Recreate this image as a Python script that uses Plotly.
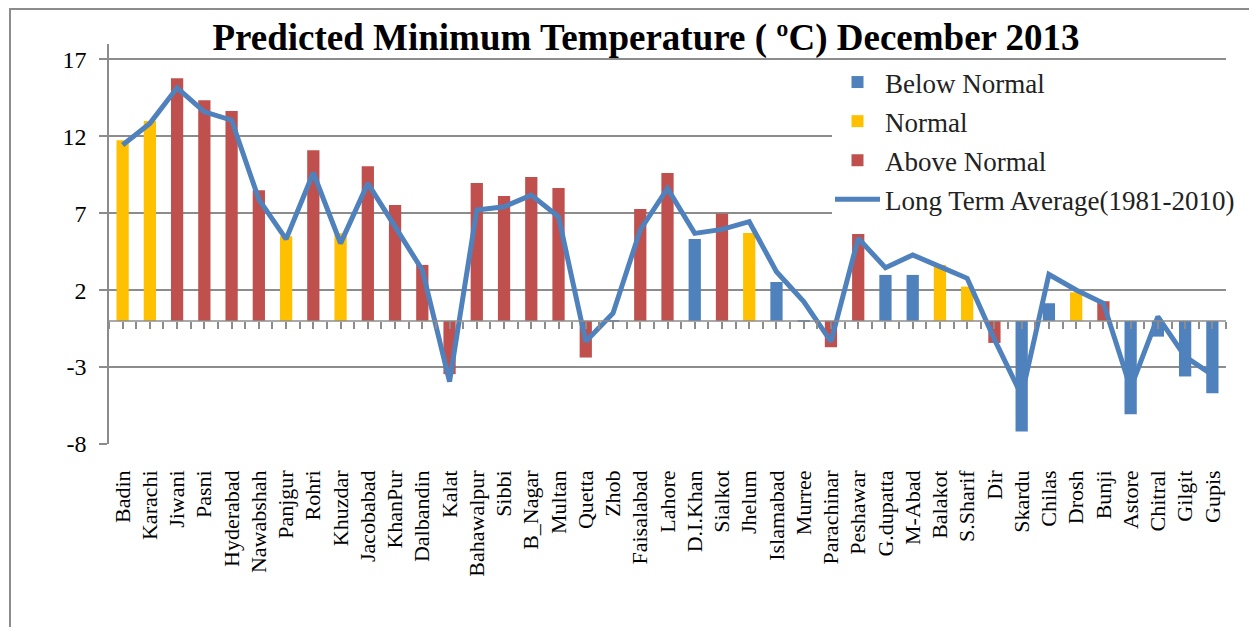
import plotly.graph_objects as go

stations = ["Badin", "Karachi", "Jiwani", "Pasni", "Hyderabad", "Nawabshah", "Panjgur", "Rohri",
            "Khuzdar", "Jacobabad", "KhanPur", "Dalbandin", "Kalat", "Bahawalpur", "Sibbi", "B_Nagar",
            "Multan", "Quetta", "Zhob", "Faisalabad", "Lahore", "D.I.Khan", "Sialkot", "Jhelum",
            "Islamabad", "Murree", "Parachinar", "Peshawar", "G.dupatta", "M-Abad", "Balakot",
            "S.Sharif", "Dir", "Skardu", "Chilas", "Drosh", "Bunji", "Astore", "Chitral", "Gilgit", "Gupis"]

predicted = [11.75, 12.99, 15.78, 14.35, 13.64, 8.5, 5.5, 11.1, 5.7, 10.06, 7.53, 3.64, -3.46,
             8.96, 8.12, 9.35, 8.64, -2.38, -0.07, 7.27, 9.61, 5.32, 6.97, 5.71, 2.53, -0.07,
             -1.71, 5.65, 2.99, 2.99, 3.64, 2.23, -1.43, -7.19, 1.15, 1.86, 1.28, -6.06, -1.02,
             -3.61, -4.7]

category = ["N", "N", "A", "A", "A", "A", "N", "A", "N", "A", "A", "A", "A",
            "A", "A", "A", "A", "A", "B", "A", "A", "B", "A", "N", "B", "B",
            "A", "A", "B", "B", "N", "N", "A", "B", "B", "N", "A", "B", "B",
            "B", "B"]

long_term_avg = [11.43, 12.84, 15.15, 13.59, 13.05, 7.9, 5.32, 9.63, 5.04, 8.94, 6.13, 3.31, -3.94,
                 7.21, 7.42, 8.18, 6.77, -1.34, 0.5, 5.91, 8.61, 5.69, 5.95, 6.45, 3.2, 1.26,
                 -1.34, 5.37, 3.46, 4.29, 3.53, 2.77, -1.2, -4.85, 3.02, 2.01, 1.15, -4.37, 0.28,
                 -2.32, -3.51]

y_ticks = [-8, -3, 2, 7, 12, 17]
y_tick_text = ["-8", "-3", "2", "7", "12", "17"]

series = [("B", "Below Normal", "#4F81BD"),
          ("N", "Normal", "#FFC000"),
          ("A", "Above Normal", "#C0504D")]

FONT = "Liberation Serif, Times New Roman, serif"
GRID = "#8c8c8c"

W, H = 1249, 619
ML, MR, MT, MB = 101, 31, 36, 183
PW = W - ML - MR
PH = H - MT - MB


def px_x(fx):
    return (fx - ML) / PW


def px_y(fy):
    return (H - MB - fy) / PH


fig = go.Figure()
for code, name, color in series:
    vals = [v if c == code else None for v, c in zip(predicted, category)]
    fig.add_trace(go.Bar(x=stations, y=vals, name=name, marker_color=color,
                         marker_line_width=0, width=0.45, legendgroup=name))

fig.add_trace(go.Scatter(x=stations, y=long_term_avg, mode="lines",
                         name="Long Term Average(1981-2010)",
                         line=dict(color="#4F81BD", width=5),
                         legendgroup="lta"))

n = len(stations)
# helper trace on the zero-crossing category axis (carries the tick marks)
fig.add_trace(go.Scatter(x=[-0.5, n - 0.5], y=[0, 0], xaxis="x2", mode="lines",
                         line=dict(color=GRID, width=1.5), showlegend=False, hoverinfo="skip"))

fig.update_layout(
    width=W, height=H,
    paper_bgcolor="white", plot_bgcolor="white",
    barmode="overlay",
    margin=dict(l=ML, r=MR, t=MT, b=MB, autoexpand=False),
    title=dict(text="<b>Predicted Minimum Temperature ( ºC) December 2013</b>",
               font=dict(family=FONT, size=37, color="black"),
               x=638 / W, xanchor="center", y=1 - 29 / H, yanchor="middle"),
    font=dict(family=FONT, color="black"),
    xaxis=dict(type="category", range=[-0.5, n - 0.5], showgrid=False, ticks="",
               tickangle=-90, tickfont=dict(family=FONT, size=22, color="black"),
               ticklabelstandoff=21, showline=False, zeroline=False),
    xaxis2=dict(overlaying="x", anchor="free", position=8 / 26, range=[-0.5, n - 0.5],
                tickmode="linear", tick0=-0.5, dtick=0.5, ticks="outside", ticklen=7,
                tickwidth=1.5, tickcolor=GRID, showticklabels=False, showgrid=False,
                showline=False, zeroline=False, side="bottom"),
    yaxis=dict(range=[-8, 18], tickvals=y_ticks, ticktext=y_tick_text,
               showgrid=True, gridcolor=GRID, gridwidth=1.5,
               zeroline=False, showline=True, linecolor=GRID, linewidth=1.5,
               ticks="outside", ticklen=8, tickwidth=1.5, tickcolor=GRID,
               tickfont=dict(family=FONT, size=24, color="black"), ticklabelstandoff=8),
    legend=dict(x=px_x(822), y=px_y(50), xanchor="left", yanchor="top",
                bgcolor="rgba(0,0,0,0)",
                font=dict(family=FONT, size=27, color="#222"), tracegroupgap=1,
                traceorder="grouped", itemwidth=45),
    shapes=[
        dict(type="rect", xref="paper", yref="paper",
             x0=px_x(2), x1=px_x(1247), y0=px_y(H + 50), y1=px_y(1),
             line=dict(color=GRID, width=2), layer="below"),
        dict(type="rect", xref="paper", yref="paper",
             x0=px_x(824), x1=px_x(W + 5), y0=px_y(218), y1=px_y(54),
             line=dict(width=0), fillcolor="white", layer="above"),
    ],
    showlegend=True,
)

fig.write_html("out.html")
